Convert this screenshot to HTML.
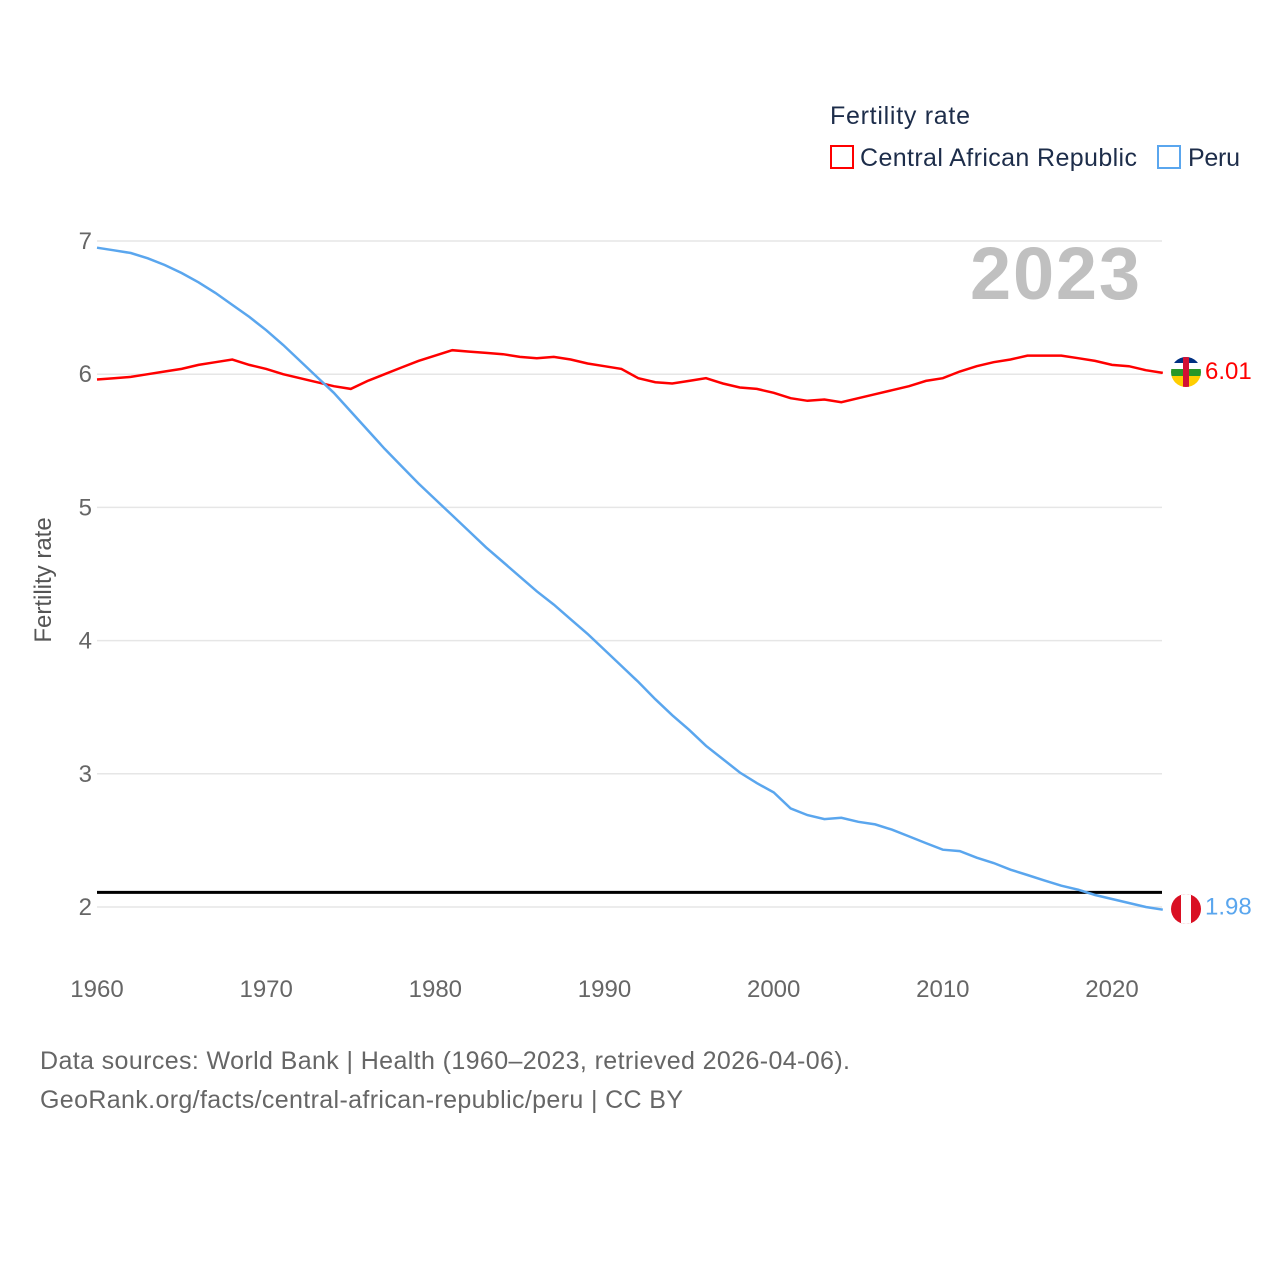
<!DOCTYPE html>
<html><head><meta charset="utf-8"><style>
body{margin:0;background:#fff;font-family:"Liberation Sans",sans-serif}
svg{display:block}
</style></head><body>
<svg id="chart" width="1280" height="1280" viewBox="0 0 1280 1280">
<defs>
<clipPath id="fc1"><circle cx="1186" cy="372" r="15"/></clipPath>
<clipPath id="fc2"><circle cx="1186" cy="909" r="15"/></clipPath>
</defs>
<g>
<text x="830" y="124" font-size="25" fill="#1d2d4a" textLength="140">Fertility rate</text>
<rect x="831" y="146" width="22" height="22" fill="none" stroke="#ff0000" stroke-width="2"/>
<text x="860" y="166" font-size="25" fill="#1d2d4a" textLength="277">Central African Republic</text>
<rect x="1158" y="146" width="22" height="22" fill="none" stroke="#5aa6ee" stroke-width="2"/>
<text x="1188" y="166" font-size="25" fill="#1d2d4a" textLength="52">Peru</text>
</g>
<g id="grid"></g>
<g id="yticks"></g>
<g id="xticks"></g>
<text x="1140" y="299" text-anchor="end" font-size="74" font-weight="bold" fill="#c0c0c0" textLength="170">2023</text>
<text transform="translate(51,580) rotate(-90)" text-anchor="middle" font-size="24" fill="#555">Fertility rate</text>
<line id="refline" x1="97" x2="1162" stroke="#000" stroke-width="3"/>
<path id="car" fill="none" stroke="#ff0000" stroke-width="2.5"/>
<path id="peru" fill="none" stroke="#5aa6ee" stroke-width="2.5"/>
<g clip-path="url(#fc1)">
<rect x="1171" y="357" width="30" height="6" fill="#003082"/>
<rect x="1171" y="363" width="30" height="6" fill="#fff"/>
<rect x="1171" y="369" width="30" height="7" fill="#289728"/>
<rect x="1171" y="376" width="30" height="11" fill="#ffce00"/>
<rect x="1183" y="357" width="6" height="30" fill="#d21034"/>
</g>
<g clip-path="url(#fc2)">
<rect x="1171" y="894" width="30" height="30" fill="#d91023"/>
<rect x="1181" y="894" width="10" height="30" fill="#fff"/>
</g>
<text id="carlab" x="1205" font-size="24" fill="#ff0000"></text>
<text id="perulab" x="1205" font-size="24" fill="#5aa6ee"></text>
<text x="40" y="1069" font-size="25" fill="#666" textLength="810">Data sources: World Bank | Health (1960–2023, retrieved 2026-04-06).</text>
<text x="40" y="1108" font-size="25" fill="#666" textLength="643">GeoRank.org/facts/central-african-republic/peru | CC BY</text>
</svg>
<script>
const years=[];for(let y=1960;y<=2023;y++)years.push(y);
const carValues=[5.96,5.97,5.98,6.00,6.02,6.04,6.07,6.09,6.11,6.07,6.04,6.00,5.97,5.94,5.91,5.89,5.95,6.00,6.05,6.10,6.14,6.18,6.17,6.16,6.15,6.13,6.12,6.13,6.11,6.08,6.06,6.04,5.97,5.94,5.93,5.95,5.97,5.93,5.90,5.89,5.86,5.82,5.80,5.81,5.79,5.82,5.85,5.88,5.91,5.95,5.97,6.02,6.06,6.09,6.11,6.14,6.14,6.14,6.12,6.10,6.07,6.06,6.03,6.01];
const peruValues=[6.95,6.93,6.91,6.87,6.82,6.76,6.69,6.61,6.52,6.43,6.33,6.22,6.10,5.98,5.86,5.72,5.58,5.44,5.31,5.18,5.06,4.94,4.82,4.70,4.59,4.48,4.37,4.27,4.16,4.05,3.93,3.81,3.69,3.56,3.44,3.33,3.21,3.11,3.01,2.93,2.86,2.74,2.69,2.66,2.67,2.64,2.62,2.58,2.53,2.48,2.43,2.42,2.37,2.33,2.28,2.24,2.20,2.16,2.13,2.09,2.06,2.03,2.00,1.98];
const yTicks=[2,3,4,5,6,7];
const xTicks=[1960,1970,1980,1990,2000,2010,2020];
const refValue=2.11;
const X=y=>97+(y-1960)*(1015/60);
const Y=v=>907-(v-2)*133.2;
const NS="http://www.w3.org/2000/svg";
const g=document.getElementById('grid'),yt=document.getElementById('yticks'),xt=document.getElementById('xticks');
yTicks.forEach(t=>{
 const l=document.createElementNS(NS,'line');
 l.setAttribute('x1',97);l.setAttribute('x2',1162);l.setAttribute('y1',Y(t));l.setAttribute('y2',Y(t));
 l.setAttribute('stroke','#e6e6e6');l.setAttribute('stroke-width','1.5');
 
 
 g.appendChild(l);
 const tx=document.createElementNS(NS,'text');
 tx.setAttribute('x',92);tx.setAttribute('y',Y(t)+8);tx.setAttribute('text-anchor','end');
 tx.setAttribute('font-size','24');tx.setAttribute('fill','#666');tx.textContent=t;
 
 
 yt.appendChild(tx);
});
xTicks.forEach(t=>{
 const tx=document.createElementNS(NS,'text');
 tx.setAttribute('x',X(t));tx.setAttribute('y',997);tx.setAttribute('text-anchor','middle');
 tx.setAttribute('font-size','24');tx.setAttribute('fill','#666');tx.textContent=t;
 
 
 xt.appendChild(tx);
});
const rl=document.getElementById('refline');rl.setAttribute('y1',Y(refValue));rl.setAttribute('y2',Y(refValue));
const path=vals=>vals.map((v,i)=>(i?'L':'M')+X(years[i]).toFixed(1)+','+Y(v).toFixed(1)).join('');
document.getElementById('car').setAttribute('d',path(carValues));
document.getElementById('peru').setAttribute('d',path(peruValues));
const cl=document.getElementById('carlab'),pl=document.getElementById('perulab');
const cv=carValues[carValues.length-1],pv=peruValues[peruValues.length-1];
cl.textContent=cv.toFixed(2);cl.setAttribute('y',Y(cv)+6);
pl.textContent=pv.toFixed(2);pl.setAttribute('y',Y(pv)+5);
</script>
</body></html>
